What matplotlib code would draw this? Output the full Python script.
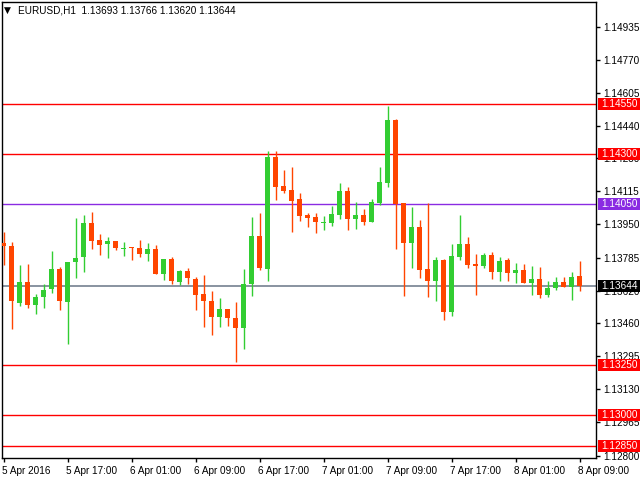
import matplotlib
matplotlib.use("Agg")
import matplotlib.pyplot as plt
import matplotlib.transforms as mtransforms
from matplotlib.patches import Rectangle
import numpy as np

# ---- data (EURUSD H1, 5 Apr 2016 09:00 .. 8 Apr 2016 09:00) ----
opens = [1.13856, 1.13844, 1.13561, 1.13665, 1.13547, 1.13587, 1.13627, 1.13730, 1.13562, 1.13761,
         1.13786, 1.13958, 1.13874, 1.13851, 1.13869, 1.13829, 1.13836, 1.13834, 1.13801, 1.13829,
         1.13706, 1.13780, 1.13662, 1.13720, 1.13680, 1.13606, 1.13571, 1.13488, 1.13531, 1.13486,
         1.13433, 1.13652, 1.13894, 1.13730, 1.14287, 1.14142, 1.14123, 1.14078, 1.13998, 1.13988,
         1.13958, 1.13958, 1.13998, 1.14118, 1.13978, 1.13998, 1.13963, 1.14058, 1.14157, 1.14470,
         1.14058, 1.13859, 1.13939, 1.13730, 1.13670, 1.13775, 1.13513, 1.13789, 1.13854, 1.13755,
         1.13745, 1.13799, 1.13715, 1.13775, 1.13710, 1.13725, 1.13660, 1.13680, 1.13601, 1.13635,
         1.13665, 1.13640, 1.13693]
highs = [1.13915, 1.13861, 1.13750, 1.13755, 1.13606, 1.13655, 1.13819, 1.13740, 1.13765, 1.13983,
         1.13998, 1.14013, 1.13904, 1.13889, 1.13870, 1.13864, 1.13839, 1.13874, 1.13859, 1.13849,
         1.13780, 1.13789, 1.13725, 1.13735, 1.13690, 1.13700, 1.13620, 1.13586, 1.13531, 1.13566,
         1.13730, 1.13988, 1.14008, 1.14316, 1.14316, 1.14222, 1.14237, 1.14108, 1.14008, 1.14008,
         1.13993, 1.14043, 1.14157, 1.14137, 1.14063, 1.14028, 1.14078, 1.14237, 1.14540, 1.14475,
         1.14058, 1.14038, 1.13973, 1.14058, 1.13789, 1.13780, 1.13854, 1.13998, 1.13889, 1.13804,
         1.13809, 1.13814, 1.13789, 1.13784, 1.13760, 1.13755, 1.13745, 1.13740, 1.13670, 1.13690,
         1.13690, 1.13715, 1.13766]
lows = [1.13746, 1.13432, 1.13542, 1.13532, 1.13503, 1.13532, 1.13607, 1.13522, 1.13354, 1.13682,
        1.13716, 1.13826, 1.13796, 1.13781, 1.13821, 1.13791, 1.13771, 1.13786, 1.13766, 1.13706,
        1.13675, 1.13652, 1.13647, 1.13652, 1.13522, 1.13438, 1.13398, 1.13438, 1.13443, 1.13264,
        1.13329, 1.13592, 1.13721, 1.13670, 1.14073, 1.14108, 1.13914, 1.13968, 1.13939, 1.13909,
        1.13924, 1.13944, 1.13978, 1.13924, 1.13929, 1.13949, 1.13963, 1.14048, 1.14137, 1.13829,
        1.13596, 1.13735, 1.13685, 1.13591, 1.13571, 1.13476, 1.13496, 1.13775, 1.13735, 1.13601,
        1.13735, 1.13680, 1.13670, 1.13670, 1.13660, 1.13660, 1.13601, 1.13586, 1.13591, 1.13625,
        1.13640, 1.13576, 1.13620]
closes = [1.13841, 1.13567, 1.13665, 1.13547, 1.13591, 1.13625, 1.13730, 1.13567, 1.13765, 1.13784,
          1.13958, 1.13870, 1.13846, 1.13869, 1.13831, 1.13834, 1.13831, 1.13801, 1.13829, 1.13706,
          1.13780, 1.13667, 1.13720, 1.13682, 1.13597, 1.13567, 1.13488, 1.13531, 1.13483, 1.13433,
          1.13655, 1.13894, 1.13731, 1.14287, 1.14137, 1.14118, 1.14068, 1.13993, 1.13983, 1.13963,
          1.13963, 1.14003, 1.14118, 1.13978, 1.13998, 1.13963, 1.14063, 1.14162, 1.14470, 1.14053,
          1.13859, 1.13939, 1.13725, 1.13670, 1.13775, 1.13513, 1.13794, 1.13854, 1.13750, 1.13745,
          1.13799, 1.13715, 1.13770, 1.13710, 1.13725, 1.13660, 1.13680, 1.13601, 1.13635, 1.13665,
          1.13640, 1.13690, 1.13644]

tick_bars = [0, 8, 16, 24, 32, 40, 48, 56, 64, 72]
tick_labels_x = ["5 Apr 2016", "5 Apr 17:00", "6 Apr 01:00", "6 Apr 09:00", "6 Apr 17:00",
                 "7 Apr 01:00", "7 Apr 09:00", "7 Apr 17:00", "8 Apr 01:00", "8 Apr 09:00"]
price_ticks = [1.14935, 1.14770, 1.14605, 1.14440, 1.14280, 1.14115, 1.13950, 1.13785,
               1.13620, 1.13460, 1.13295, 1.13130, 1.12965, 1.12800]
red_levels = [1.14550, 1.14300, 1.13250, 1.13000, 1.12850]
purple_level = 1.14050
bid_level = 1.13644
title = "EURUSD,H1  1.13693 1.13766 1.13620 1.13644"

# ---- figure ----
FONT = "Liberation Sans"
FS = 7.2
W, H = 640, 480
fig = plt.figure(figsize=(6.4, 4.8), dpi=100)
left, right, top, bottom = 2, 596, 2, 458
ax = fig.add_axes([left / W, 1 - bottom / H, (right - left) / W, (bottom - top) / H])
ax.set_facecolor("white")

GREEN = "#32CD32"
RED = "#FF4500"

o = np.array(opens); c = np.array(closes); h = np.array(highs); l = np.array(lows)
x = np.arange(len(o))
up = c >= o
colors = np.where(up, GREEN, RED)
ax.vlines(x, l, h, colors=colors, linewidth=1.0, zorder=3)
body_lo = np.minimum(o, c)
body_h = np.maximum(np.abs(c - o), 0.00002)
ax.bar(x, body_h, bottom=body_lo, width=0.65, color=colors, linewidth=0, zorder=4)

for lv in red_levels:
    ax.axhline(lv, color="#FF0000", linewidth=1.0, zorder=2)
ax.axhline(purple_level, color="#8A2BE2", linewidth=1.0, zorder=2)
ax.axhline(bid_level, color="#7F8A99", linewidth=1.3, zorder=2)

ax.set_xlim(-0.19, 74.06)
ax.set_ylim(1.12788, 1.15057)

for s in ax.spines.values():
    s.set_color("black")
    s.set_linewidth(1.0)

ax.yaxis.tick_right()
ax.set_yticks(price_ticks)
ax.set_yticklabels([f"{v:.5f}" for v in price_ticks], fontsize=FS, family=FONT)
ax.tick_params(axis="y", direction="out", length=3, width=1, pad=2, colors="black")
ax.set_xticks(tick_bars)
ax.set_xticklabels(tick_labels_x, fontsize=FS, family=FONT)
ax.tick_params(axis="x", direction="out", length=3, width=1, pad=3)
for lbl in ax.get_xticklabels():
    lbl.set_horizontalalignment("left")
    lbl.set_transform(lbl.get_transform() + mtransforms.ScaledTranslation(-2 / 100, 0, fig.dpi_scale_trans))

# level labels on the right: boxes spanning to the figure edge
trans = mtransforms.blended_transform_factory(ax.transAxes, ax.transData)
box_x0 = 1.0 + 1.5 / (right - left)
box_w = (W - right) / (right - left)
box_h = 12 * (1.15057 - 1.12788) / (bottom - top)
def level_box(val, fc):
    ax.add_patch(Rectangle((box_x0, val - box_h / 2), box_w, box_h, transform=trans,
                           facecolor=fc, edgecolor="none", clip_on=False, zorder=9))
    ax.text(1.0 + 5 / (right - left), val, f"{val:.5f}", transform=trans, fontsize=FS,
            family=FONT, color="white", ha="left", va="center", clip_on=False, zorder=10)
for lv in red_levels:
    level_box(lv, "#FF0000")
level_box(purple_level, "#8A2BE2")
level_box(bid_level, "#000000")

# title
ax.text(0.0035, 0.981, "\u25BC", transform=ax.transAxes,
        fontsize=6.5, family="DejaVu Sans", ha="left", va="center", color="black")
ax.text(0.027, 0.981, title, transform=ax.transAxes, fontsize=FS, family=FONT,
        ha="left", va="center", color="black")

fig.savefig("out.png", dpi=100, facecolor="white")
